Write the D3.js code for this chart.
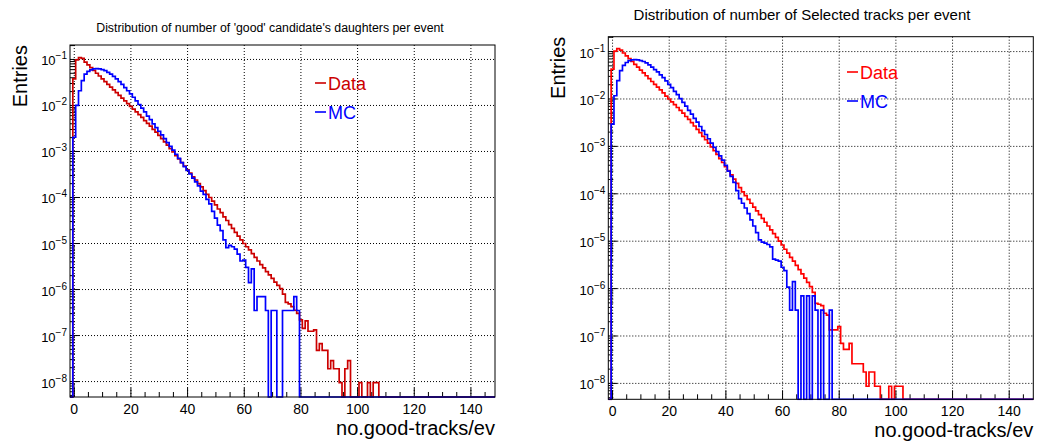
<!DOCTYPE html>
<html>
<head>
<meta charset="utf-8">
<script src="https://cdn.jsdelivr.net/npm/d3@7"></script>
<style>
  body { margin: 0; background: #fff; }
  text { font-family: "Liberation Sans", Arial, Helvetica, sans-serif; }
</style>
</head>
<body>
<div id="chart"></div>
<script>
// bins are 1 wide and centred on 0,1,2,...  bins past the end of an array are empty
var dataLeft = [
  3.80e-2, 9.77e-2, 1.10e-1, 1.05e-1, 8.71e-2, 7.59e-2, 6.61e-2, 5.75e-2, 5.01e-2, 4.37e-2,
  3.80e-2, 3.31e-2, 2.88e-2, 2.51e-2, 2.19e-2, 1.91e-2, 1.66e-2, 1.45e-2, 1.26e-2, 1.10e-2,
  9.55e-3, 8.32e-3, 7.24e-3, 6.31e-3, 5.50e-3, 4.68e-3, 4.07e-3, 3.55e-3, 3.02e-3, 2.63e-3,
  2.24e-3, 1.91e-3, 1.62e-3, 1.38e-3, 1.15e-3, 9.77e-4, 8.13e-4, 6.92e-4, 5.75e-4, 4.79e-4,
  3.98e-4, 3.39e-4, 2.82e-4, 2.40e-4, 2.00e-4, 1.70e-4, 1.41e-4, 1.17e-4, 1.00e-4, 8.32e-5,
  6.92e-5, 5.62e-5, 4.68e-5, 3.80e-5, 3.16e-5, 2.57e-5, 2.14e-5, 1.74e-5, 1.45e-5, 1.20e-5,
  1.00e-5, 8.51e-6, 7.24e-6, 6.03e-6, 5.01e-6, 4.17e-6, 3.47e-6, 2.95e-6, 2.45e-6, 2.09e-6,
  1.74e-6, 1.45e-6, 1.23e-6, 1.05e-6, 7.94e-7, 5.25e-7, 4.90e-7, 4.27e-7, 3.55e-7, 3.02e-7,
  2.19e-7, 1.43e-7, 2.09e-7, 1.24e-7, 1.24e-7, 1.33e-7, 4.75e-8, 6.65e-8, 4.75e-8, 4.75e-8,
  1.90e-8, 2.85e-8, 1.90e-8, 1.90e-8, 9.5e-9, 0, 1.90e-8, 2.85e-8, 0, 0,
  0, 9.5e-9, 0, 0, 9.5e-9, 0, 9.5e-9, 9.5e-9
];
var mcLeft = [
  2.04e-3, 1.00e-2, 2.09e-2, 3.47e-2, 4.79e-2, 5.50e-2, 5.96e-2, 6.24e-2, 6.31e-2, 6.24e-2,
  6.03e-2, 5.69e-2, 5.25e-2, 4.79e-2, 4.27e-2, 3.80e-2, 3.31e-2, 2.88e-2, 2.45e-2, 2.09e-2,
  1.78e-2, 1.51e-2, 1.26e-2, 1.05e-2, 8.71e-3, 7.24e-3, 5.89e-3, 4.90e-3, 3.98e-3, 3.31e-3,
  2.75e-3, 2.29e-3, 1.91e-3, 1.55e-3, 1.29e-3, 1.07e-3, 8.71e-4, 7.08e-4, 5.75e-4, 4.68e-4,
  3.89e-4, 3.24e-4, 2.63e-4, 2.19e-4, 1.78e-4, 1.38e-4, 1.17e-4, 9.12e-5, 7.24e-5, 5.01e-5,
  3.55e-5, 2.51e-5, 1.91e-5, 1.20e-5, 8.13e-6, 9.12e-6, 8.51e-6, 7.59e-6, 5.89e-6, 4.17e-6,
  4.37e-6, 3.02e-6, 1.41e-6, 2.80e-6, 3.5e-7, 7.0e-7, 7.0e-7, 7.0e-7, 3.5e-7, 0,
  3.5e-7, 3.5e-7, 0, 0, 3.5e-7, 3.5e-7, 3.5e-7, 3.5e-7, 7.0e-7, 3.5e-7
];
var dataRight = [
  4.27e-2, 1.02e-1, 1.15e-1, 1.07e-1, 9.33e-2, 8.13e-2, 7.08e-2, 6.17e-2, 5.37e-2, 4.68e-2,
  4.07e-2, 3.55e-2, 3.09e-2, 2.69e-2, 2.34e-2, 2.04e-2, 1.78e-2, 1.55e-2, 1.35e-2, 1.15e-2,
  1.00e-2, 8.71e-3, 7.59e-3, 6.61e-3, 5.75e-3, 5.01e-3, 4.27e-3, 3.72e-3, 3.16e-3, 2.69e-3,
  2.29e-3, 1.95e-3, 1.62e-3, 1.38e-3, 1.17e-3, 9.77e-4, 8.13e-4, 6.76e-4, 5.50e-4, 4.57e-4,
  3.72e-4, 3.09e-4, 2.51e-4, 2.04e-4, 1.66e-4, 1.35e-4, 1.10e-4, 9.12e-5, 7.59e-5, 6.31e-5,
  5.25e-5, 4.37e-5, 3.63e-5, 3.02e-5, 2.51e-5, 2.09e-5, 1.74e-5, 1.45e-5, 1.20e-5, 1.00e-5,
  8.32e-6, 6.76e-6, 5.62e-6, 4.57e-6, 3.80e-6, 3.09e-6, 2.51e-6, 2.04e-6, 1.66e-6, 1.35e-6,
  1.10e-6, 8.32e-7, 4.90e-7, 4.68e-7, 4.37e-7, 3.02e-7, 2.75e-7, 1.35e-7, 1.35e-7, 1.35e-7,
  1.58e-7, 7.0e-8, 5.2e-8, 5.2e-8, 7.0e-8, 2.6e-8, 2.6e-8, 2.6e-8, 2.6e-8, 1.74e-8,
  8.7e-9, 1.74e-8, 1.74e-8, 8.7e-9, 8.7e-9, 0, 0, 0, 8.7e-9, 0,
  8.7e-9, 8.7e-9, 8.7e-9
];
var mcRight = [
  2.95e-3, 1.17e-2, 2.45e-2, 3.98e-2, 5.13e-2, 5.89e-2, 6.46e-2, 6.68e-2, 6.76e-2, 6.68e-2,
  6.46e-2, 6.17e-2, 5.75e-2, 5.25e-2, 4.68e-2, 4.17e-2, 3.72e-2, 3.24e-2, 2.82e-2, 2.40e-2,
  2.04e-2, 1.74e-2, 1.45e-2, 1.23e-2, 1.02e-2, 8.51e-3, 7.08e-3, 5.75e-3, 4.79e-3, 3.89e-3,
  3.24e-3, 2.63e-3, 2.14e-3, 1.78e-3, 1.45e-3, 1.17e-3, 9.55e-4, 7.76e-4, 6.31e-4, 5.13e-4,
  3.98e-4, 3.02e-4, 2.34e-4, 1.74e-4, 1.17e-4, 7.94e-5, 6.31e-5, 5.01e-5, 3.80e-5, 2.82e-5,
  2.09e-5, 1.51e-5, 1.07e-5, 9.55e-6, 9.12e-6, 8.51e-6, 7.59e-6, 4.17e-6, 3.98e-6, 3.80e-6,
  2.82e-6, 2.40e-6, 1.07e-6, 3.5e-7, 1.4e-6, 3.5e-7, 0, 7.0e-7, 0, 7.0e-7,
  0, 7.0e-7, 3.5e-7, 0, 3.5e-7, 0, 0, 3.5e-7
];

var xTickValues = [0, 20, 40, 60, 80, 100, 120, 140];
var yDecades = [-1, -2, -3, -4, -5, -6, -7, -8];
var seriesNames = ["Data", "MC"];

var W = 1039, H = 447;
var xLo = -1.5, xHi = 148.5;
var yLo = 4.62e-9, yHi = 0.206;

var panels = [
  { title: "Distribution of number of 'good' candidate's daughters per event",
    data: dataLeft, mc: mcLeft, red: "#cc0000",
    left: 70, right: 495, top: 45, bottom: 397,
    titleX: 270, titleY: 32, titleSize: 12.3,
    legX: 315, legY: 83 },
  { title: "Distribution of number of Selected tracks per event",
    data: dataRight, mc: mcRight, red: "#ff0000",
    left: 608.3, right: 1033.3, top: 36.7, bottom: 399.3,
    titleX: 802, titleY: 20, titleSize: 15,
    legX: 847, legY: 72 }
];

var svg = d3.select("#chart").append("svg")
  .attr("width", W).attr("height", H);
svg.append("rect").attr("width", W).attr("height", H).attr("fill", "#fff");

function histPath(vals, x, y, yBottom) {
  var pts = [[x(xLo), yBottom]];
  for (var b = -1; b <= 148; b++) {
    var v = (b >= 0 && b < vals.length) ? vals[b] : 0;
    var py = v > 0 ? y(v) : yBottom;
    pts.push([x(b - 0.5), py]);
    pts.push([x(b + 0.5), py]);
  }
  return d3.line()(pts);
}

panels.forEach(function (p, i) {
  var x = d3.scaleLinear().domain([xLo, xHi]).range([p.left, p.right]);
  var y = d3.scaleLog().domain([yLo, yHi]).range([p.bottom, p.top]);
  var g = svg.append("g");

  // grid
  g.selectAll(".gx").data(xTickValues).enter().append("line")
    .attr("x1", function (d) { return x(d); }).attr("x2", function (d) { return x(d); })
    .attr("y1", p.top).attr("y2", p.bottom)
    .attr("stroke", "#000").attr("stroke-width", 1).attr("stroke-dasharray", "1,2");
  g.selectAll(".gy").data(yDecades).enter().append("line")
    .attr("x1", p.left).attr("x2", p.right)
    .attr("y1", function (d) { return y(Math.pow(10, d)); })
    .attr("y2", function (d) { return y(Math.pow(10, d)); })
    .attr("stroke", "#000").attr("stroke-width", 1).attr("stroke-dasharray", "1,2");

  // x ticks: major every 20, minor every 5
  var xMinor = d3.range(0, 149, 5);
  g.selectAll(".tx").data(xMinor).enter().append("line")
    .attr("x1", function (d) { return x(d); }).attr("x2", function (d) { return x(d); })
    .attr("y1", p.bottom)
    .attr("y2", function (d) { return p.bottom - (d % 20 === 0 ? 9 : 5); })
    .attr("stroke", "#000").attr("stroke-width", 1);

  // y ticks: decades and 2..9 minors
  var yMinor = [];
  for (var e = -9; e <= -1; e++) {
    for (var m = 1; m <= 9; m++) {
      var v = m * Math.pow(10, e);
      if (v >= yLo && v <= yHi) yMinor.push({ v: v, major: m === 1 });
    }
  }
  g.selectAll(".ty").data(yMinor).enter().append("line")
    .attr("x1", p.left)
    .attr("x2", function (d) { return p.left + (d.major ? 9 : 5); })
    .attr("y1", function (d) { return y(d.v); }).attr("y2", function (d) { return y(d.v); })
    .attr("stroke", "#000").attr("stroke-width", 1);

  // histograms
  var clipId = "clip" + i;
  svg.append("clipPath").attr("id", clipId).append("rect")
    .attr("x", p.left - 1).attr("y", p.top).attr("width", p.right - p.left + 2)
    .attr("height", p.bottom - p.top + 1);
  var hg = g.append("g").attr("clip-path", "url(#" + clipId + ")");
  hg.append("path").attr("d", histPath(p.data, x, y, p.bottom))
    .attr("fill", "none").attr("stroke", p.red).attr("stroke-width", 1.7);
  hg.append("path").attr("d", histPath(p.mc, x, y, p.bottom))
    .attr("fill", "none").attr("stroke", "#0000ff").attr("stroke-width", 1.7);

  // frame
  g.append("rect").attr("x", p.left).attr("y", p.top)
    .attr("width", p.right - p.left).attr("height", p.bottom - p.top)
    .attr("fill", "none").attr("stroke", "#000").attr("stroke-width", 1);

  // x tick labels
  g.selectAll(".lx").data(xTickValues).enter().append("text")
    .attr("x", function (d) { return x(d); }).attr("y", p.bottom + 17)
    .attr("text-anchor", "middle").attr("font-size", 14)
    .text(function (d) { return d; });

  // y tick labels 10^-n
  var ly = g.selectAll(".ly").data(yDecades).enter().append("text")
    .attr("x", p.left - 3).attr("y", function (d) { return y(Math.pow(10, d)) + 6; })
    .attr("text-anchor", "end").attr("font-size", 13);
  ly.append("tspan").text("10");
  ly.append("tspan").attr("dy", -6).attr("font-size", 10)
    .text(function (d) { return "\u2212" + (-d); });

  // axis titles
  g.append("text")
    .attr("transform", "translate(" + (p.left - 43) + "," + p.top + ") rotate(-90)")
    .attr("text-anchor", "end").attr("font-size", 20).text("Entries");
  g.append("text").attr("x", p.right).attr("y", p.bottom + 38)
    .attr("text-anchor", "end").attr("font-size", 20).text("no.good-tracks/ev");

  // title
  g.append("text").attr("x", p.titleX).attr("y", p.titleY)
    .attr("text-anchor", "middle").attr("font-size", p.titleSize).text(p.title);

  // legend
  var legColors = [p.red, "#0000ff"];
  seriesNames.forEach(function (name, k) {
    var cy = p.legY + k * 29;
    g.append("line").attr("x1", p.legX).attr("x2", p.legX + 11)
      .attr("y1", cy).attr("y2", cy)
      .attr("stroke", legColors[k]).attr("stroke-width", 1.6);
    g.append("text").attr("x", p.legX + 13).attr("y", cy + 6.5)
      .attr("font-size", 18).attr("fill", legColors[k]).text(name);
  });
});
</script>
</body>
</html>
